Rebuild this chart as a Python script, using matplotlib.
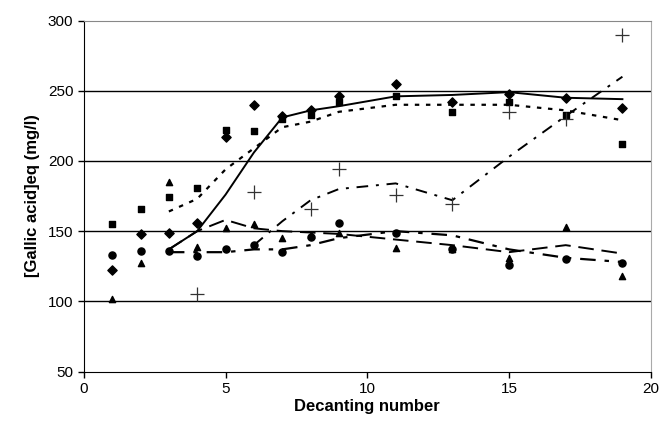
import matplotlib
matplotlib.use("Agg")
import matplotlib.pyplot as plt

plt.rcParams['font.family'] = ['Liberation Sans', 'DejaVu Sans']

# scatter data (decanting number -> mg/l)
x_all = [1, 2, 3, 4, 5, 6, 7, 8, 9, 11, 13, 15, 17, 19]
diamond = [122, 148, 149, 156, 217, 240, 232, 236, 246, 255, 242, 248, 245, 238]
square = [155, 166, 174, 181, 222, 221, 230, 233, 242, 246, 235, 242, 233, 212]
triangle = [102, 127, 185, 139, 152, 155, 145, 147, 149, 138, 137, 131, 153, 118]
circle = [133, 136, 136, 132, 137, 140, 135, 146, 156, 149, 137, 126, 130, 127]
x_plus = [4, 6, 8, 9, 11, 13, 15, 17, 19]
plus = [105, 178, 166, 194, 176, 169, 235, 230, 290]

# moving-average trend lines
x_tr = [3, 4, 5, 6, 7, 8, 9, 11, 13, 15, 17, 19]
tr_diamond = [137, 150, 176, 206, 231, 236, 239, 246, 247, 249, 245, 244]
tr_square = [164, 173, 194, 209, 224, 228, 235, 240, 240, 240, 236, 229]
tr_triangle = [137, 150, 158, 152, 150, 149, 148, 144, 140, 135, 140, 134]
tr_circle = [135, 135, 135, 137, 137, 140, 145, 150, 147, 137, 131, 128]
x_tr_plus = [6, 7, 8, 9, 11, 13, 15, 17, 19]
tr_plus = [140, 157, 172, 180, 184, 172, 203, 232, 260]

fig = plt.figure(figsize=(6.6, 4.28), dpi=100)
ax = fig.add_axes([0.127, 0.132, 0.859, 0.820])

for y in [100, 150, 200, 250]:
    ax.axhline(y, color='black', lw=1.0, zorder=1)

ax.plot(x_tr, tr_diamond, color='black', lw=1.4, zorder=2)
ax.plot(x_tr, tr_square, color='black', lw=1.6, dashes=(2, 3), zorder=2)
ax.plot(x_tr, tr_triangle, color='black', lw=1.4, dashes=(8, 4), zorder=2)
ax.plot(x_tr, tr_circle, color='black', lw=1.6, dashes=(7, 4, 2, 4), zorder=2)
ax.plot(x_tr_plus, tr_plus, color='black', lw=1.4, dashes=(6, 4, 1.5, 4), zorder=2)

ax.scatter(x_all, diamond, marker='D', s=22, color='black', zorder=3)
ax.scatter(x_all, square, marker='s', s=16, color='black', zorder=3)
ax.scatter(x_all, triangle, marker='^', s=20, color='black', zorder=3)
ax.scatter(x_all, circle, marker='o', s=26, color='black', zorder=3)
ax.scatter(x_plus, plus, marker='+', s=95, color='#333333', linewidths=0.9, zorder=3)

ax.set_xlim(0, 20)
ax.set_ylim(50, 300)
ax.set_xticks([0, 5, 10, 15, 20])
ax.set_yticks([50, 100, 150, 200, 250, 300])
ax.tick_params(labelsize=11, length=4, width=1, direction='out')

ax.spines['left'].set_color('black')
ax.spines['bottom'].set_color('black')
ax.spines['top'].set_color('#888888')
ax.spines['right'].set_color('#aaaaaa')

ax.set_xlabel('Decanting number', fontsize=12, fontweight='bold', labelpad=2)
ax.set_ylabel('[Gallic acid]eq (mg/l)', fontsize=12, fontweight='bold', labelpad=6)

fig.savefig('out.png', dpi=100)
